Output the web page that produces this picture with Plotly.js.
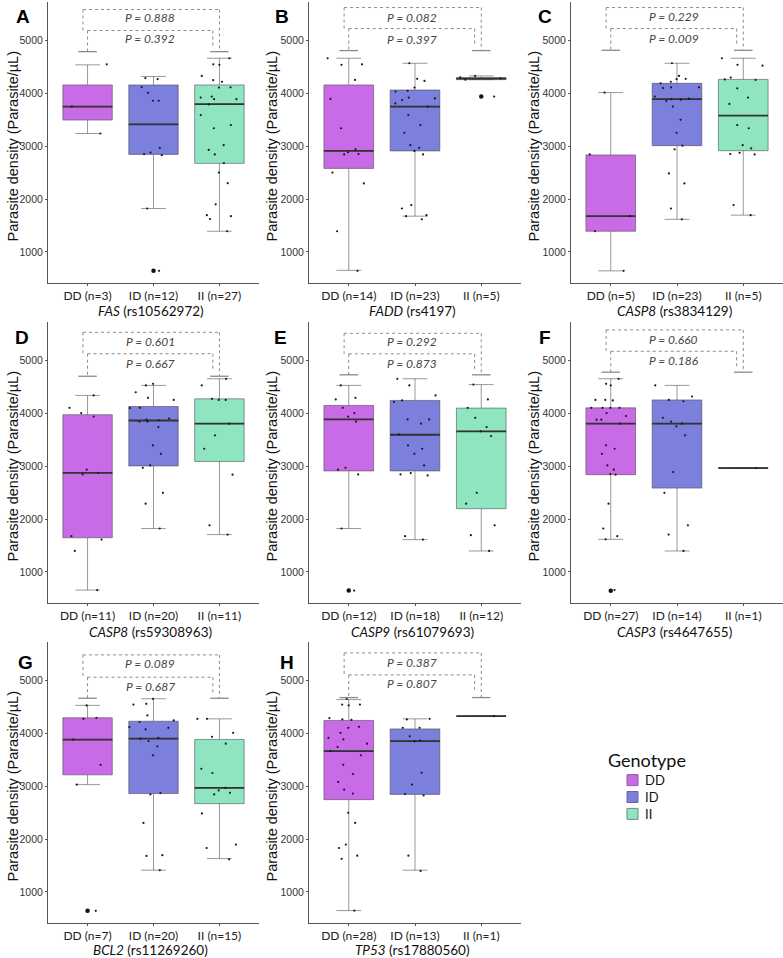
<!DOCTYPE html>
<html><head><meta charset="utf-8">
<script src="https://cdn.plot.ly/plotly-3.0.1.min.js"></script>
<style>html,body{margin:0;padding:0;background:#fff}#chart{width:783px;height:958px}</style>
</head><body><div id="chart"></div>
<script>
// ---------- DATA ----------
const genotypes = ["DD", "ID", "II"];
const panelLetters = ["A", "B", "C", "D", "E", "F", "G", "H"];
const genes = ["FAS", "FADD", "CASP8", "CASP8", "CASP9", "CASP3", "BCL2", "TP53"];
const snps = ["rs10562972", "rs4197", "rs3834129", "rs59308963", "rs61079693", "rs4647655", "rs11269260", "rs17880560"];
const nCounts = [[3,12,27],[14,23,5],[5,23,5],[11,20,11],[12,18,12],[27,14,1],[7,20,15],[28,13,1]];
const pOuter = ["0.888","0.082","0.229","0.601","0.292","0.660","0.089","0.387"];
const pInner = ["0.392","0.397","0.009","0.667","0.873","0.186","0.687","0.807"];
const yTicks = [1000, 2000, 3000, 4000, 5000];

// box statistics per genotype: [lower whisker, Q1, median, Q3, upper whisker]
const statsA = [[3240,3495,3750,4160,4540],[1820,2845,3415,4160,4320],[1390,2675,3795,4160,4665]];
const statsB = [[650,2580,2910,4160,4665],[1675,2910,3750,4065,4570],[4260,4260,4280,4300,4330]];
const statsC = [[640,1390,1675,2835,4015],[1615,3010,3890,4190,4570],[1695,2915,3580,4265,4665]];
const statsD = [[655,1645,2875,3975,4340],[1820,3005,3865,4130,4530],[1705,3090,3805,4275,4655]];
const statsE = [[1820,2910,3885,4150,4530],[1610,2910,3595,4245,4655],[1395,2195,3660,4100,4545]];
const statsF = [[1615,2840,3805,4105,4655],[1395,2585,3805,4255,4530],[2965,2965,2965,2965,2965]];
const statsG = [[3030,3215,3880,4295,4530],[1410,2860,3900,4230,4655],[1630,2670,2970,3885,4275]];
const statsH = [[645,2745,3665,4245,4640],[1410,2845,3855,4085,4275],[4325,4325,4325,4325,4325]];

// individual observations per genotype (DD, ID, II)
const pointsA = [
  [4550,3750,3240],
  [4290,4270,4120,4010,3860,3860,2970,2880,2850,2830,1820,640],
  [4665,4550,4540,4330,4250,4220,4110,4115,3940,3920,3890,3890,3790,3590,3400,3340,3020,2930,2845,2680,2500,2300,1900,1695,1675,1620,1390]];
const pointsB = [
  [4665,4550,4540,4255,3895,3340,2940,2885,2850,2845,2500,2295,1390,640],
  [4570,4275,4235,4110,4050,4035,3920,3905,3875,3810,3750,3590,3400,3255,3020,2970,2910,2845,1885,1820,1695,1675,1615],
  [4330,4305,4285,4260,3940]];
const pointsC = [
  [4015,2845,1675,1390,640],
  [4570,4330,4270,4275,4220,4190,4115,4115,4100,3940,3900,3890,3880,3855,3750,3500,3255,3010,2940,2485,2295,1820,1615],
  [4665,4540,4525,4300,4265,4255,4095,3920,3800,3400,3340,3020,2960,2875,2850,2845,1885,1695]];
const pointsD = [
  [4340,4105,4005,3940,2935,2875,2845,1675,1610,1395,655],
  [4560,4530,4400,4295,4255,4105,4100,3900,3880,3870,3845,3845,3740,3395,3235,3015,2970,2495,2290,1820],
  [4655,4530,4275,4255,4255,3805,3585,3330,2840,1880,1705]];
const pointsE = [
  [4530,4295,4265,4105,4005,3940,3845,2970,2935,2845,1820,645],
  [4655,4530,4340,4245,4215,3885,3885,3805,3600,3395,3330,3235,3015,2870,2845,2825,1675,1610],
  [4545,4265,4105,3915,3740,3660,3570,2495,2290,1880,1695,1395]];
const pointsF = [
  [4655,4560,4530,4255,4255,4245,4105,4105,4105,4105,4005,3950,3880,3880,3805,3395,3330,3235,3015,2935,2850,2840,2290,1820,1675,1615,655],
  [4530,4320,4255,4230,3915,3845,3805,3755,3585,2890,2495,1880,1705,1395],
  [2965]];
const pointsG = [
  [4530,4295,4275,3880,3405,3030,640],
  [4655,4560,4545,4340,4245,4215,4120,4105,4075,3915,3900,3855,3755,3585,2870,2845,2305,1695,1680,1410],
  [4275,4275,4010,3935,3805,3330,3250,2970,2920,2875,2845,2485,1895,1830,1615]];
const pointsH = [
  [4655,4545,4545,4530,4290,4265,4255,4125,4105,4010,3915,3885,3805,3740,3670,3585,3405,3230,3080,2935,2860,2495,2305,1895,1830,1685,1625,645],
  [4275,4265,4105,4105,3945,3865,3850,3255,3030,2850,2825,1685,1395],
  [4325]];

// boxplot outliers per genotype
const outliersA = [[], [640], []];
const outliersB = [[], [], [3940]];
const outliersC = [[], [], []];
const outliersD = [[], [], []];
const outliersE = [[645], [], []];
const outliersF = [[640], [], []];
const outliersG = [[640], [], []];
const outliersH = [[], [], []];

// ---------- STYLE / LAYOUT CONFIG ----------
const stats = [statsA, statsB, statsC, statsD, statsE, statsF, statsG, statsH];
const points = [pointsA, pointsB, pointsC, pointsD, pointsE, pointsF, pointsG, pointsH];
const outliers = [outliersA, outliersB, outliersC, outliersD, outliersE, outliersF, outliersG, outliersH];
const fills = ["#C96BE6", "#7C7FDC", "#8FE5C0"];
const edges = ["#9658ad", "#6466b3", "#6f8c80"];
// bracket levels per panel: [outer, inner, cap, innerRightEnd, outerTextY, innerTextY]
const bracketY = [
  [5588,5190,4790,4886,5430,5030],
  [5625,5227,4810,4925,5436,5020],
  [5625,5227,4816,4920,5450,5030],
  [5535,5130,4703,4810,5365,4950],
  [5516,5127,4730,4830,5365,4950],
  [5580,5176,4780,4880,5390,5000],
  [5486,5063,4665,4765,5316,4893],
  [5523,5107,4678,4780,5345,4937]];
const W = 783, H = 958;
const colPx = [[48,259],[309,521],[571,783]];
const rowPx = [[2,283],[322,603],[642,923]];
const letterPos = [[23,17],[282,17],[545,17],[22,337],[280,337],[545,337],[25,662],[287,662]];
const yTitleX = [12, 271, 533];
const xTitleY = [311, 632, 950];

const px = v => v / W;
const py = v => 1 - v / H;

const traces = [];
const layout = {
  width: W, height: H,
  margin: {l: 0, r: 0, t: 0, b: 0},
  paper_bgcolor: "#fff", plot_bgcolor: "#fff",
  showlegend: false, boxmode: "overlay",
  shapes: [], annotations: []
};
const note = (o) => layout.annotations.push(Object.assign({showarrow: false, xanchor: "center", yanchor: "middle", borderpad: 0}, o));

for (let i = 0; i < 8; i++) {
  const row = Math.floor(i / 3), col = i % 3;
  const sfx = i === 0 ? "" : String(i + 1);
  const xa = "x" + sfx, ya = "y" + sfx;
  layout["xaxis" + sfx] = {
    domain: [px(colPx[col][0]), px(colPx[col][1])], anchor: ya,
    type: "category", categoryorder: "array", categoryarray: genotypes,
    range: [-0.6, 2.6], tickvals: genotypes,
    ticktext: genotypes.map((g, k) => g + " (n=" + nCounts[i][k] + ")"),
    tickfont: {family: "Lato, sans-serif", size: 12, color: "#222"},
    showline: true, linecolor: "#555", linewidth: 1,
    ticks: "outside", ticklen: 2, tickcolor: "#555",
    showgrid: false, zeroline: false, fixedrange: true
  };
  layout["yaxis" + sfx] = {
    domain: [py(rowPx[row][1]), py(rowPx[row][0])], anchor: xa,
    range: [410, 5730], tickvals: yTicks,
    tickfont: {family: "Liberation Sans, Arial, sans-serif", size: 10.5, color: "#333"},
    showline: true, linecolor: "#555", linewidth: 1,
    ticks: "outside", ticklen: 2, tickcolor: "#555",
    showgrid: false, zeroline: false, fixedrange: true
  };

  genotypes.forEach((g, k) => {
    const s = stats[i][k];
    // box with precomputed statistics
    traces.push({
      type: "box", x: [g], xaxis: xa, yaxis: ya,
      lowerfence: [s[0]], q1: [s[1]], median: [s[2]], q3: [s[3]], upperfence: [s[4]],
      width: 0.75, fillcolor: fills[k], line: {color: "rgba(70,70,70,0.55)", width: 1},
      boxpoints: false, hoverinfo: "skip", showlegend: false
    });
    // dark median line
    traces.push({
      type: "box", x: [g], xaxis: xa, yaxis: ya,
      lowerfence: [s[2]], q1: [s[2]], median: [s[2]], q3: [s[2]], upperfence: [s[2]],
      width: 0.75, fillcolor: "rgba(0,0,0,0)", line: {color: "#333", width: 1.8},
      boxpoints: false, hoverinfo: "skip", showlegend: false
    });
    // jittered observations
    traces.push({
      type: "box", x0: g, y: points[i][k], xaxis: xa, yaxis: ya,
      boxpoints: "all", jitter: 1, pointpos: 0, width: 0.75,
      fillcolor: "rgba(0,0,0,0)", line: {color: "rgba(0,0,0,0)", width: 0},
      marker: {size: 2.2, color: "#1a1a1a"}, hoverinfo: "y", showlegend: false
    });
    // outliers
    if (outliers[i][k].length) {
      traces.push({
        type: "scatter", mode: "markers", xaxis: xa, yaxis: ya,
        x: outliers[i][k].map(() => g), y: outliers[i][k],
        marker: {size: 4.5, color: "#111"}, hoverinfo: "y", showlegend: false
      });
    }
  });

  // significance brackets
  const [yo, yi, yc, yir, yto, yti] = bracketY[i];
  const dashed = {color: "#8a8a8a", width: 1, dash: "dot"};
  const solid = {color: "#8a8a8a", width: 1.3};
  const ln = (x0, y0, x1, y1, line) => layout.shapes.push({type: "line", xref: xa, yref: ya, x0, y0, x1, y1, line});
  ln(-0.07, yo, 2.0, yo, dashed);
  ln(-0.07, yo, -0.07, yi, dashed);
  ln(2.0, yo, 2.0, yc, dashed);
  ln(0.0, yi, 1.9, yi, dashed);
  ln(0.0, yi, 0.0, yc, dashed);
  ln(1.9, yi, 1.9, yir, dashed);
  ln(-0.14, yc, 0.14, yc, solid);
  ln(1.86, yc, 2.14, yc, solid);
  const pfont = {family: "Lato, sans-serif", size: 12, color: "#444"};
  note({xref: xa, yref: ya, x: 0.95, y: yto, text: "<i>P = " + pOuter[i] + "</i>", font: pfont});
  note({xref: xa, yref: ya, x: 0.95, y: yti, text: "<i>P = " + pInner[i] + "</i>", font: pfont});

  // panel letter
  note({xref: "paper", yref: "paper", x: px(letterPos[i][0]), y: py(letterPos[i][1]),
    text: "<b>" + panelLetters[i] + "</b>",
    font: {family: "Liberation Sans, Arial, sans-serif", size: 19, color: "#000"}});
  // y title
  note({xref: "paper", yref: "paper", x: px(yTitleX[col]), y: py((rowPx[row][0] + rowPx[row][1]) / 2 + 4),
    text: "Parasite density (Parasite/µL)", textangle: -90,
    font: {family: "Liberation Sans, Arial, sans-serif", size: 14.5, color: "#111"}});
  // x title
  note({xref: "paper", yref: "paper", x: px((colPx[col][0] + colPx[col][1]) / 2 - 3), y: py(xTitleY[row]),
    text: "<i>" + genes[i] + "</i> (" + snps[i] + ")",
    font: {family: "Lato, sans-serif", size: 13.5, color: "#111"}});
}

// legend (manual): swatches + one multi-line label block
const legFont = 13, legStep = legFont * 1.3, legMid = 797;
note({xref: "paper", yref: "paper", x: px(647), y: py(760), text: "Genotype",
  font: {family: "Lato, sans-serif", size: 18, color: "#111"}});
genotypes.forEach((g, k) => {
  const cy = legMid + (k - 1) * legStep;
  layout.shapes.push({type: "rect", xref: "paper", yref: "paper",
    x0: px(627), x1: px(638), y0: py(cy + 5.5), y1: py(cy - 5.5),
    fillcolor: fills[k], line: {color: edges[k], width: 1}});
});
note({xref: "paper", yref: "paper", x: px(644), y: py(legMid), xanchor: "left", align: "left",
  text: genotypes.join("<br>"), font: {family: "Lato, sans-serif", size: legFont, color: "#111"}});

Plotly.newPlot("chart", traces, layout, {displayModeBar: false, staticPlot: true});
</script>
</body></html>
